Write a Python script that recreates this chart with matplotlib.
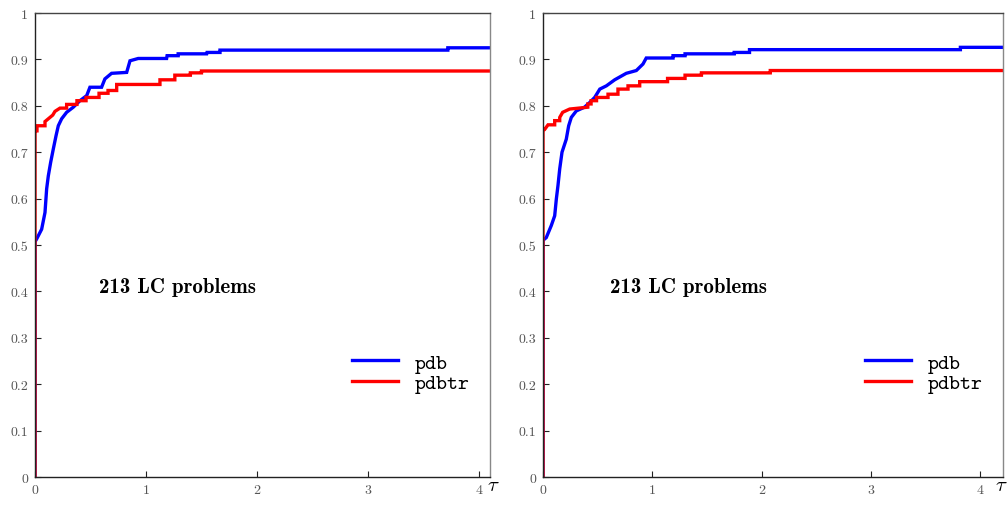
import matplotlib
matplotlib.use("Agg")
import matplotlib.pyplot as plt

plt.rcParams['mathtext.fontset'] = 'cm'
plt.rcParams['axes.formatter.use_mathtext'] = True

# performance profiles, left panel (tau up to 4.1)
left_pdb_x = [0, 0, 0.015, 0.06, 0.09, 0.105, 0.12, 0.141, 0.165, 0.19, 0.21, 0.24,
              0.285, 0.345, 0.405, 0.466, 0.495, 0.60, 0.63, 0.69, 0.826, 0.856, 0.93,
              1.186, 1.19, 1.29, 1.29, 1.547, 1.55, 1.667, 1.667, 3.72, 3.72, 4.1]
left_pdb_y = [0, 0.507, 0.513, 0.534, 0.570, 0.621, 0.649, 0.678, 0.707, 0.736, 0.757, 0.772,
              0.786, 0.797, 0.811, 0.822, 0.840, 0.840, 0.858, 0.870, 0.872, 0.897, 0.902,
              0.902, 0.908, 0.908, 0.912, 0.912, 0.915, 0.915, 0.920, 0.920, 0.925, 0.925]

left_pdbtr_x = [0, 0, 0.018, 0.018, 0.09, 0.09, 0.135, 0.16, 0.18, 0.225, 0.285, 0.285,
                0.378, 0.378, 0.46, 0.46, 0.577, 0.577, 0.658, 0.658, 0.736, 0.736,
                1.126, 1.126, 1.26, 1.26, 1.40, 1.40, 1.50, 1.50, 4.1]
left_pdbtr_y = [0, 0.746, 0.746, 0.757, 0.757, 0.766, 0.775, 0.780, 0.788, 0.795, 0.795, 0.803,
                0.803, 0.811, 0.811, 0.818, 0.818, 0.827, 0.827, 0.833, 0.833, 0.846,
                0.846, 0.856, 0.856, 0.866, 0.866, 0.871, 0.871, 0.875, 0.875]

# right panel (tau up to 4.21)
right_pdb_x = [0, 0, 0.03, 0.076, 0.107, 0.122, 0.137, 0.153, 0.174, 0.213, 0.235, 0.259,
               0.305, 0.38, 0.427, 0.473, 0.52, 0.58, 0.656, 0.762, 0.854, 0.915, 0.945,
               1.19, 1.19, 1.30, 1.30, 1.75, 1.75, 1.89, 1.89, 3.82, 3.82, 4.21]
right_pdb_y = [0, 0.510, 0.516, 0.542, 0.563, 0.599, 0.628, 0.664, 0.700, 0.728, 0.757, 0.775,
               0.789, 0.797, 0.807, 0.818, 0.836, 0.843, 0.856, 0.870, 0.876, 0.890, 0.903,
               0.903, 0.908, 0.908, 0.912, 0.912, 0.915, 0.915, 0.921, 0.921, 0.926, 0.926]

right_pdbtr_x = [0, 0, 0.015, 0.046, 0.107, 0.107, 0.153, 0.153, 0.18, 0.244, 0.41, 0.41,
                 0.44, 0.44, 0.49, 0.49, 0.595, 0.595, 0.686, 0.686, 0.778, 0.778,
                 0.885, 0.885, 1.14, 1.14, 1.30, 1.30, 1.45, 1.45, 2.08, 2.08, 4.21]
right_pdbtr_y = [0, 0.749, 0.749, 0.759, 0.759, 0.768, 0.768, 0.775, 0.786, 0.793, 0.797, 0.804,
                 0.804, 0.811, 0.811, 0.818, 0.818, 0.825, 0.825, 0.836, 0.836, 0.843,
                 0.843, 0.852, 0.852, 0.859, 0.859, 0.866, 0.866, 0.871, 0.871, 0.876, 0.876]

x_ticks = [0, 1, 2, 3, 4]
y_ticks = [0, 0.1, 0.2, 0.3, 0.4, 0.5, 0.6, 0.7, 0.8, 0.9, 1]
y_labels = ['0', '0.1', '0.2', '0.3', '0.4', '0.5', '0.6', '0.7', '0.8', '0.9', '1']
title_text = '213 LC problems'

fig = plt.figure(figsize=(10.08, 5.06), dpi=100)
ax1 = fig.add_axes([35 / 1008, 1 - 478 / 506, 455 / 1008, 464 / 506])
ax2 = fig.add_axes([543 / 1008, 1 - 478 / 506, 460 / 1008, 464 / 506])


def setup(ax, xmax, bx, tau_x, title_x, pdb_x, pdb_y, tr_x, tr_y):
    ax.plot(pdb_x, pdb_y, color='#0000ff', lw=2.4, label='pdb', solid_joinstyle='miter')
    ax.plot(tr_x, tr_y, color='#ff0000', lw=2.4, label='pdbtr', solid_joinstyle='miter')
    ax.set_xlim(0, xmax)
    ax.set_ylim(0, 1)
    ax.set_xticks(x_ticks)
    ax.set_xticklabels([str(t) for t in x_ticks])
    ax.set_yticks(y_ticks)
    ax.set_yticklabels(y_labels)
    ax.tick_params(direction='in', length=4, width=0.8, colors='#222222',
                   labelcolor='#555555', labelsize=10, pad=5)
    for lab in ax.get_xticklabels() + ax.get_yticklabels():
        lab.set_family('cmr10')
    ax.spines['left'].set_color('#222222')
    ax.spines['bottom'].set_color('#222222')
    ax.spines['top'].set_color('#444444')
    ax.spines['right'].set_color('#888888')
    for s in ax.spines.values():
        s.set_linewidth(1.0)
    ax.text(title_x, 0.41, title_text, family='cmb10', fontsize=15, ha='center', va='center')
    ax.text(tau_x, -0.016, r'$\tau$', transform=ax.transAxes, fontsize=15,
            ha='center', va='center')
    leg = ax.legend(loc='upper left', bbox_to_anchor=(bx, 0.267), frameon=False,
                    borderpad=0, borderaxespad=0, handlelength=2.2, handletextpad=0.8,
                    labelspacing=0.05, prop={'family': 'cmtt10', 'size': 15})
    return leg


setup(ax1, 4.1, (352 - 35) / 455, 1.007, 1.28,
      left_pdb_x, left_pdb_y, left_pdbtr_x, left_pdbtr_y)
setup(ax2, 4.21, (865 - 543) / 460, 0.997, 1.335,
      right_pdb_x, right_pdb_y, right_pdbtr_x, right_pdbtr_y)

fig.savefig('out.png', dpi=100)
